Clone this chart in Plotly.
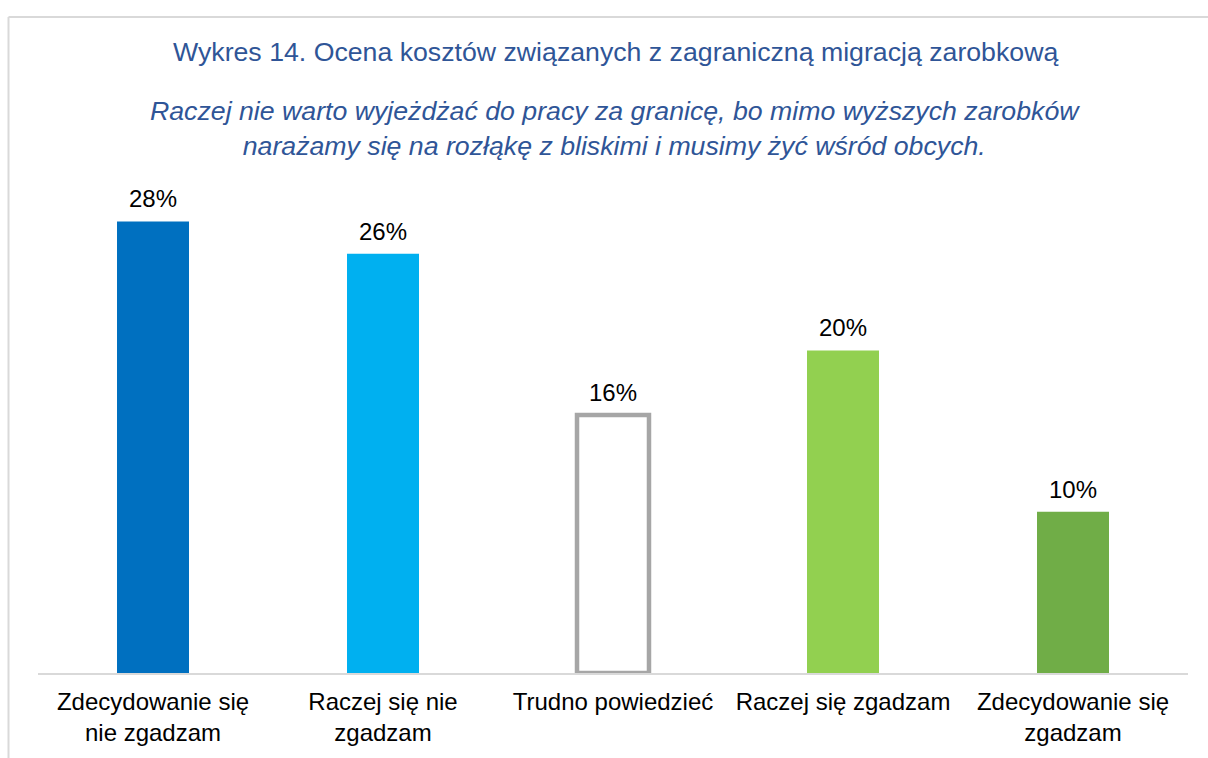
import plotly.graph_objects as go

categories = ["Zdecydowanie się<br>nie zgadzam", "Raczej się nie<br>zgadzam", "Trudno powiedzieć",
              "Raczej się zgadzam", "Zdecydowanie się<br>zgadzam"]
values = [28, 26, 16, 20, 10]
labels = ["28%", "26%", "16%", "20%", "10%"]
fill_colors = ["#0070C0", "#00B0F0", "#FFFFFF", "#92D050", "#70AD47"]
line_colors = ["#0070C0", "#00B0F0", "#A6A6A6", "#92D050", "#70AD47"]
line_widths = [0, 0, 4.5, 0, 0]

title_text = "Wykres 14. Ocena kosztów związanych z zagraniczną migracją zarobkową"
subtitle_text = ("<i>Raczej nie warto wyjeżdżać do pracy za granicę, bo mimo wyższych zarobków<br>"
                 "narażamy się na rozłąkę z bliskimi i musimy żyć wśród obcych.</i>")

FONT = "Liberation Sans, Arial, sans-serif"
W, H = 1208, 758
L, R, T, B = 38, 20, 185, 78
pw, ph = W - L - R, H - T - B

def px_x(x):
    return (x - L) / pw

def px_y(y):
    return (H - B - y) / ph

fig = go.Figure()
fig.add_trace(go.Bar(
    x=categories, y=values,
    marker=dict(color=fill_colors, line=dict(color=line_colors, width=line_widths)),
    width=0.313,
))

annotations = [
    dict(x=c, y=v, xref="x", yref="y", text=t, showarrow=False,
         xanchor="center", yanchor="bottom", yshift=7,
         font=dict(family=FONT, size=24, color="#000000"))
    for c, v, t in zip(categories, values, labels)
]
annotations += [
    dict(text=title_text, xref="paper", yref="paper", x=px_x(615), y=px_y(50),
         xanchor="center", yanchor="middle", showarrow=False,
         font=dict(family=FONT, size=26.7, color="#2F5597")),
    dict(text=subtitle_text, xref="paper", yref="paper", x=px_x(615), y=px_y(128),
         xanchor="center", yanchor="middle", showarrow=False,
         font=dict(family=FONT, size=26.7, color="#2F5597")),
]

fig.update_layout(
    width=W, height=H,
    margin=dict(l=L, r=R, t=T, b=B),
    paper_bgcolor="white", plot_bgcolor="white",
    showlegend=False,
    font=dict(family=FONT, size=24, color="#000000"),
    xaxis=dict(showgrid=False, showline=True, linecolor="#D9D9D9", linewidth=2,
               ticks="", ticklabelstandoff=6,
               tickfont=dict(family=FONT, size=24, color="#000000"),
               range=[-0.5, 4.5]),
    yaxis=dict(visible=False, range=[0, 30.26]),
    annotations=annotations,
    shapes=[
        dict(type="line", xref="paper", yref="paper", x0=px_x(8.5), x1=px_x(1215),
             y0=px_y(14.5), y1=px_y(14.5), line=dict(color="#D9D9D9", width=2)),
        dict(type="line", xref="paper", yref="paper", x0=px_x(8.5), x1=px_x(8.5),
             y0=px_y(14.5), y1=px_y(770), line=dict(color="#D9D9D9", width=2)),
    ],
)

fig.write_html(
    "out.html",
    config={"displayModeBar": False},
    post_script="document.body.style.margin='0';document.body.style.overflow='hidden';",
)
